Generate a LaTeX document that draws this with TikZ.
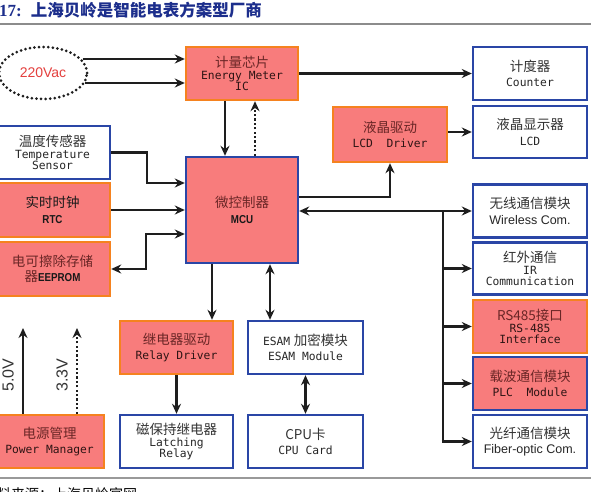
\documentclass[tikz,border=0pt]{standalone}
\usepackage{fontspec}
\usetikzlibrary{arrows.meta,shapes.geometric,calc}
\setmainfont{Liberation Sans}
\newfontfamily\cjk{Noto Sans CJK SC}
\newfontfamily\mono{DejaVu Sans Mono}
\newfontfamily\serifb{Liberation Serif}
\newfontfamily\sansn[FakeStretch=0.85]{Liberation Sans}
\definecolor{boxred}{HTML}{F87C7C}
\definecolor{orangeb}{HTML}{F5821F}
\definecolor{blueb}{HTML}{2A46A6}
\definecolor{zhred}{HTML}{6A2626}
\definecolor{monored}{HTML}{2E1414}
\definecolor{arrowc}{HTML}{1E1E1E}
\definecolor{titleblue}{HTML}{1C2E8C}
\definecolor{vacred}{HTML}{E4403E}
\newcommand{\zr}[1]{{\cjk\color{zhred}#1}}
\newcommand{\zb}[1]{{\cjk\color{black!80}#1}}
\newcommand{\zk}[1]{{\cjk\color{black!90}#1}}
\newcommand{\mt}[1]{{\mono\fontsize{11.3}{13}\selectfont #1}}
\newcommand{\bsf}[1]{{\sansn\bfseries\fontsize{11.5}{13}\selectfont\color{black!90}#1}}
\newcommand{\wsf}[1]{{\fontsize{12.5}{14}\selectfont\color{black!85}#1}}
\begin{document}
\begin{tikzpicture}[x=1pt,y=-1pt,
  bx/.style={line width=2.4pt, minimum width=114pt, minimum height=53pt, inner sep=0pt,
    align=center, font=\fontsize{13.5}{15.5}\selectfont},
  redbox/.style={bx, draw=orangeb, fill=boxred, text=monored},
  redblue/.style={bx, draw=blueb, fill=boxred, text=monored},
  bluebox/.style={bx, draw=blueb, fill=white, text=black!85},
  arr/.style={draw=arrowc, line width=2.5pt, -{Stealth[length=10pt,width=9pt]}},
  darr/.style={draw=arrowc, line width=2.5pt, {Stealth[length=10pt,width=9pt]}-{Stealth[length=10pt,width=9pt]}},
  dotarr/.style={arr, dash pattern=on 2.2pt off 2.2pt},
  busline/.style={draw=arrowc, line width=2.5pt},
  vlabel/.style={rotate=90, inner sep=0pt, text=black!80, font=\fontsize{16}{18}\selectfont}
]
\begin{scope}
\clip (0,0) rectangle (591,492);
\fill[white] (0,0) rectangle (591,492);
% title and rules
\node[anchor=west, inner sep=0pt, text=titleblue] (title) at (-1,10)
  {\serifb\bfseries\fontsize{17}{20}\selectfont 17:\hspace{9pt}{\cjk\bfseries\fontsize{16.5}{20}\selectfont 上海贝岭是智能电表方案型厂商}};
\draw[black!45, line width=1.2pt] (0,24) -- (591,24);
\draw[black!40, line width=2.5pt] (0,478) -- (591,478);
\node[anchor=west, inner sep=0pt] (src) at (-3,494) {\cjk\fontsize{14}{16}\selectfont 料来源：上海贝岭官网};

% source ellipse
\node[ellipse, draw=arrowc, line width=3pt, dash pattern=on 0pt off 4.6pt, line cap=round,
  minimum width=88pt, minimum height=52pt, inner sep=0pt] (vac) at (43,73)
  {\color{vacred}\fontsize{14}{16}\selectfont 220Vac};

% boxes
\node[redbox, minimum width=112pt] (em) at (242,73.5)
  {\zr{计量芯片}\\[-4pt]\mt{Energy Meter}\\[-4pt]\mt{IC}};
\node[bluebox] (counter) at (530,73.5) {\zb{计度器}\\\mt{Counter}};
\node[redbox, minimum height=55pt] (lcdd) at (390,134.5) {\zr{液晶驱动}\\\mt{LCD~~Driver}};
\node[bluebox, minimum height=52pt] (lcd) at (530,132) {\zb{液晶显示器}\\\mt{LCD}};
\node[bluebox, minimum width=115pt] (temp) at (52.5,152.5)
  {\zb{温度传感器}\\[-4pt]\mt{Temperature}\\[-4pt]\mt{Sensor}};
\node[redbox, minimum width=115pt, minimum height=54pt] (rtc) at (52.5,210) {\zk{实时时钟}\\\bsf{RTC}};
\node[redbox, minimum width=115pt, minimum height=54pt] (eep) at (52.5,269)
  {\zr{电可擦除存储}\\\zr{器}\bsf{EEPROM}};
\node[redblue, minimum width=112pt, minimum height=106pt] (mcu) at (242,210) {\zr{微控制器}\\\bsf{MCU}};

\node[bluebox] (wireless) at (530,211) {\zb{无线通信模块}\\\wsf{Wireless Com.}};
\node[bluebox, minimum height=52pt] (ir) at (530,268.5)
  {\zb{红外通信}\\[-4pt]\mt{IR}\\[-4pt]\mt{Communication}};
\node[redbox] (rs) at (530,326.5) {\zr{RS485接口}\\[-4pt]\mt{RS-485}\\[-4pt]\mt{Interface}};
\node[redblue] (plc) at (530,383.5) {\zr{载波通信模块}\\\mt{PLC~~Module}};
\node[bluebox] (fiber) at (530,441.5) {\zb{光纤通信模块}\\\wsf{Fiber-optic Com.}};

\node[redbox, minimum width=113pt] (relay) at (176.5,347.5) {\zr{继电器驱动}\\\mt{Relay Driver}};
\node[bluebox, minimum width=115pt] (esam) at (305.5,347.5) {\mt{ESAM}~\zb{加密模块}\\\mt{ESAM Module}};
\node[bluebox, minimum width=113pt] (latch) at (176.5,441.5)
  {\zb{磁保持继电器}\\[-4pt]\mt{Latching}\\[-4pt]\mt{Relay}};
\node[bluebox, minimum width=115pt] (cpu) at (305.5,441.5) {\zb{CPU卡}\\\mt{CPU Card}};
\node[redbox, minimum width=109pt] (power) at (49.5,441.5) {\zr{电源管理}\\\mt{Power Manager}};

% connectors
\draw[arr] ([shift={(-6pt,14pt)}]vac.east) coordinate (a1) -- (em.west |- a1);
\draw[arr] ([shift={(-4pt,-10pt)}]vac.east) coordinate (a2) -- (em.west |- a2);
\draw[arr] (em.east) -- (counter.west);
\draw[arr] ([xshift=-17pt]em.south) coordinate (b1) -- (b1 |- mcu.north);
\draw[dotarr] ([xshift=13pt]mcu.north) coordinate (b2) -- (b2 |- em.south);
\draw[arr] (temp.east) -- ++(36,0) |- ([yshift=27pt]mcu.west);
\draw[arr] (rtc.east) -- (rtc.east -| mcu.west);
\draw[darr] ([yshift=-24pt]mcu.west) -- ++(-39,0) |- (eep.east);
\draw[arr] ([yshift=13pt]mcu.east) -| (lcdd.south);
\draw[arr] (lcd.west -| lcdd.east) -- (lcd.west);

\coordinate (j) at (443,0);
\draw[darr] (mcu.east |- wireless.west) -- (wireless.west);
\draw[busline] (j |- wireless.west) -- (j |- fiber.west);
\draw[arr] (j |- ir.west) -- (ir.west);
\draw[arr] (j |- rs.west) -- (rs.west);
\draw[arr] (j |- plc.west) -- (plc.west);
\draw[arr] ([xshift=-1.25pt]j |- fiber.west) -- (fiber.west);

\draw[arr] ([xshift=-30pt]mcu.south) coordinate (c1) -- (c1 |- relay.north);
\draw[darr] ([xshift=28pt]mcu.south) coordinate (c2) -- (c2 |- esam.north);
\draw[arr] (relay.south) -- (latch.north);
\draw[darr] (esam.south) -- (cpu.north);

\coordinate (v5) at (23,328);
\coordinate (v3) at (77,328);
\draw[arr] (v5 |- power.north) -- (v5);
\draw[dotarr] (v3 |- power.north) -- (v3);
\node[vlabel] (l5) at (8,375) {5.0V};
\node[vlabel] (l3) at (62,375) {3.3V};
\end{scope}
\pgfresetboundingbox
\useasboundingbox (0,0) rectangle (591,492);
\end{tikzpicture}
\end{document}
